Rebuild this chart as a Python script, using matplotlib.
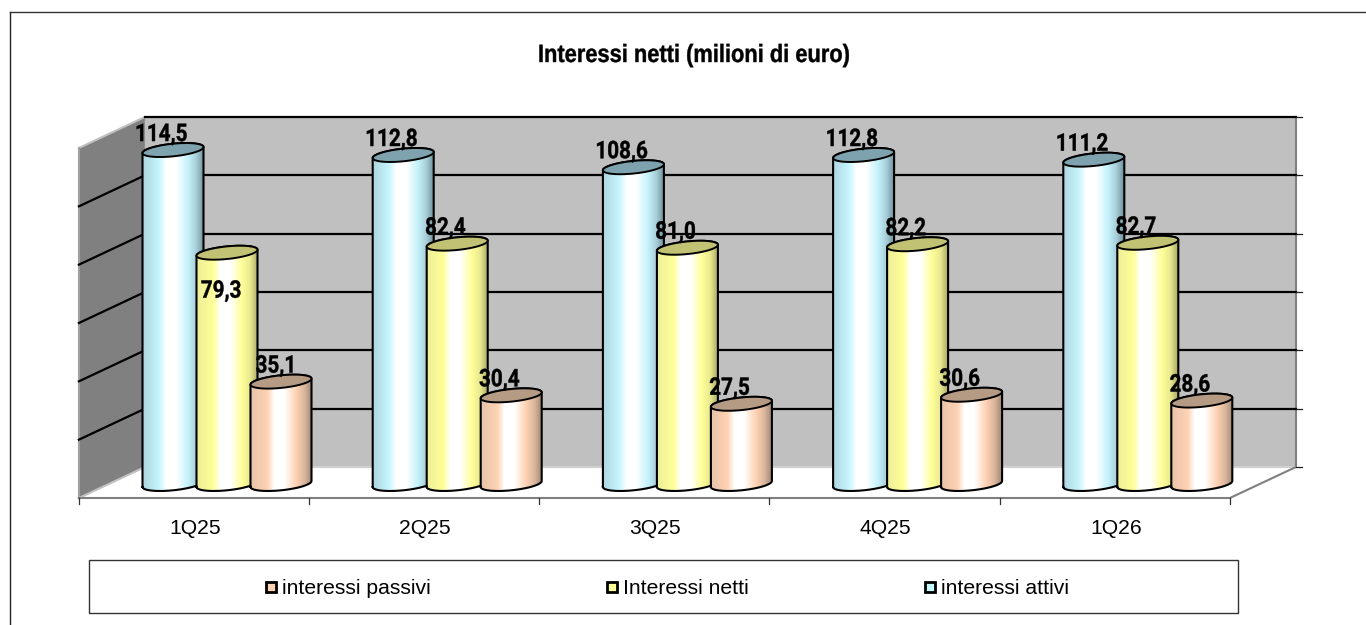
import matplotlib
matplotlib.use("Agg")
import matplotlib.pyplot as plt
from matplotlib.patches import PathPatch, Polygon, Rectangle
from matplotlib.path import Path
from matplotlib.patheffects import AbstractPathEffect
from matplotlib.transforms import Affine2D
from matplotlib.colors import LinearSegmentedColormap
import numpy as np

categories = ["1Q25", "2Q25", "3Q25", "4Q25", "1Q26"]
interessi_attivi = [114.5, 112.8, 108.6, 112.8, 111.2]
interessi_netti = [79.3, 82.4, 81.0, 82.2, 82.7]
interessi_passivi = [35.1, 30.4, 27.5, 30.6, 28.6]
series_names = ["interessi attivi", "Interessi netti", "interessi passivi"]
y_ticks = [0, 20, 40, 60, 80, 100, 120]

W, H = 1366, 625
# pixels per unit on the two chart scales
PX_X = 230.2
PX_Y = 350 / 120
X0, Y0 = 227.0, 484.0  # pixel position of the first category, value 0
DEPTH_X = 33.0 / PX_X  # half of the 3D depth
FRONT_Y, BACK_Y = -14.0 / PX_Y, 17.0 / PX_Y

BAR_W = 61 / PX_X
BAR_STEP = 54 / PX_X
TILT = 3 / PX_Y
MINOR = 6.3 / PX_Y

stops = [0, 0.27, 0.38, 0.55, 0.74, 0.88, 1]
ramps = [
    ["#add6e0", "#c8f6ff", "#ffffff", "#ffffff", "#c4f2fb", "#a8ced8", "#6f939e"],
    ["#eeee98", "#ffff99", "#ffffff", "#ffffff", "#ffff99", "#e8e890", "#aaaa64"],
    ["#e8c4aa", "#ffd2b3", "#ffffff", "#ffffff", "#ffd2b3", "#dab69d", "#a28a74"],
]
lid_colors = ["#7fa3ae", "#c2c274", "#b59a84"]
swatch_colors = ["#c8f6ff", "#ffff99", "#ffd2b3"]


class Narrow(AbstractPathEffect):
    """Squeeze text horizontally around its own centre (no condensed font installed)."""

    def __init__(self, sx, stroke=0.0):
        super().__init__()
        self.sx = sx
        self.stroke = stroke

    def draw_path(self, renderer, gc, tpath, affine, rgbFace=None):
        box = tpath.get_extents()
        mid = (box.x0 + box.x1) / 2
        squeeze = Affine2D().translate(-mid, 0).scale(self.sx, 1).translate(mid, 0)
        gc0 = renderer.new_gc()
        gc0.copy_properties(gc)
        gc0.set_linewidth(self.stroke)
        renderer.draw_path(gc0, tpath, squeeze + affine, rgbFace)
        gc0.restore()


def ellipse_pts(cx, cy, t):
    return np.column_stack([cx + BAR_W / 2 * np.cos(t),
                            cy + TILT * np.cos(t) + MINOR * np.sin(t)])


def draw_cylinder(ax, cx, value, idx, z):
    cmap = LinearSegmentedColormap.from_list("c", list(zip(stops, ramps[idx])))
    lower = ellipse_pts(cx, 0, np.linspace(np.pi, 2 * np.pi, 40))
    upper = ellipse_pts(cx, value, np.linspace(0, np.pi, 40))
    outline = np.vstack([lower, upper, lower[:1]])
    body = PathPatch(Path(outline), fc="none", ec="none", zorder=z)
    ax.add_patch(body)
    grad = np.linspace(0, 1, 128).reshape(1, -1)
    im = ax.imshow(grad, cmap=cmap, aspect="auto", zorder=z, interpolation="bilinear",
                   extent=[cx - BAR_W / 2, cx + BAR_W / 2, -MINOR * 2, value + MINOR * 2])
    im.set_clip_path(body)
    ax.plot(outline[:, 0], outline[:, 1], color="black", lw=1.5, zorder=z, solid_joinstyle="round")
    lid = ellipse_pts(cx, value, np.linspace(0, 2 * np.pi, 80))
    ax.add_patch(Polygon(lid, closed=True, fc=lid_colors[idx], ec="black", lw=1.4, zorder=z))


fig = plt.figure(figsize=(W / 100, H / 100), dpi=100)
plt.rcParams["font.family"] = ["Liberation Sans"]
ax = fig.add_axes([0, 0, 1, 1])
ax.set_xlim(-X0 / PX_X, (W - X0) / PX_X)
ax.set_ylim((Y0 - H) / PX_Y, Y0 / PX_Y)
ax.axis("off")

n = len(categories)
left, right = -0.5 - DEPTH_X, n - 0.5 - DEPTH_X  # front edge of the floor
front, back = FRONT_Y, BACK_Y
xl_b, xr_b = left + 2 * DEPTH_X, right + 2 * DEPTH_X
top = y_ticks[-1]

# outer frame
ax.plot([(9.5 - X0) / PX_X, (9.5 - X0) / PX_X], [(Y0 - 625) / PX_Y, (Y0 - 11.5) / PX_Y], color="#222222", lw=1.0)
ax.plot([(9.5 - X0) / PX_X, (W - X0) / PX_X], [(Y0 - 11.5) / PX_Y] * 2, color="#333333", lw=1.0)

# walls and floor
ax.add_patch(Polygon([(xl_b, back), (xr_b, back), (xr_b, back + top), (xl_b, back + top)],
                     fc="#c0c0c0", ec="none", zorder=1))
ax.add_patch(Polygon([(left, front), (xl_b, back), (xl_b, back + top), (left, front + top)],
                     fc="#808080", ec="none", zorder=1))
ax.plot([left, xl_b], [front + top, back + top], color="#c0c0c0", lw=1.5, zorder=2)
ax.plot([left, left], [front, front + top], color="#a0a0a0", lw=1.5, zorder=2)
ax.plot([left, xl_b], [front, back], color="#c0c0c0", lw=1.5, zorder=2)
ax.plot([xl_b, xr_b], [back, back], color="#d0d0d0", lw=1.5, zorder=2)
ax.plot([xr_b, xr_b], [back, back + top], color="#808080", lw=1.5, zorder=2)
ax.plot([xr_b, right, left], [back, front, front], color="#808080", lw=1.5, zorder=2)

# gridlines and ticks
for v in y_ticks[1:]:
    ax.plot([xl_b, xr_b], [back + v, back + v], color="black", lw=1.6, zorder=2)
    if v < top:
        ax.plot([left, xl_b], [front + v, back + v], color="black", lw=1.6, zorder=2)
for v in y_ticks:
    ax.plot([xr_b, xr_b + 6 / PX_X], [back + v, back + v], color="#222222", lw=0.9, zorder=2)
for i in range(n + 1):
    xt = left + i
    ax.plot([xt, xt], [front, front - 6 / PX_Y], color="#333333", lw=0.9, zorder=2)

# one cylinder per series in each group
z = 3
all_series = [interessi_attivi, interessi_netti, interessi_passivi]
for i in range(n):
    for j, series in enumerate(all_series):
        draw_cylinder(ax, i + (j - 1) * BAR_STEP, series[i], j, z)
        z += 1

# value labels sit on the top-left of each cylinder; Roboto's 1 has no foot
moved = {(0, 1): (6 / PX_X, -54 / PX_Y), (0, 2): (7 / PX_X, 0.0)}
for i in range(n):
    for j, series in enumerate(all_series):
        dx, dy = moved.get((i, j), (0.0, 0.0))
        ax.text(i + (j - 1) * BAR_STEP - 12 / PX_X + dx, series[i] + 15.5 / PX_Y + dy,
                f"{series[i]:.1f}".replace(".", ","), ha="center", va="center",
                family=["Roboto", "Liberation Sans"], fontweight="bold", fontsize=17.5,
                color="black", zorder=50, path_effects=[Narrow(0.85, 0.3)])

for i, c in enumerate(categories):
    ax.text(i - DEPTH_X + 1 / PX_X, (Y0 - 528.5) / PX_Y, c, ha="center", va="center", fontsize=15.2, color="black")

ax.text((694 - X0) / PX_X, (Y0 - 55) / PX_Y, "Interessi netti (milioni di euro)", ha="center", va="center",
        fontweight="bold", fontsize=18, color="black", path_effects=[Narrow(0.874, 0.3)])

# legend box, passive series first
ax.add_patch(Rectangle(((89 - X0) / PX_X, (Y0 - 613) / PX_Y), 1149 / PX_X, 53 / PX_Y,
                       fc="white", ec="#333333", lw=1.0))
for px, j in zip([266, 607, 925], [2, 1, 0]):
    ax.add_patch(Rectangle(((px - X0) / PX_X, (Y0 - 592) / PX_Y), 10 / PX_X, 10 / PX_Y,
                           fc=swatch_colors[j], ec="black", lw=2.0))
    ax.text((px + 16 - X0) / PX_X, (Y0 - 588.5) / PX_Y, series_names[j], ha="left", va="center",
            fontsize=15.2, color="black")

ax.set_xlim(-X0 / PX_X, (W - X0) / PX_X)
ax.set_ylim((Y0 - H) / PX_Y, Y0 / PX_Y)
fig.savefig("out.png", dpi=100)
